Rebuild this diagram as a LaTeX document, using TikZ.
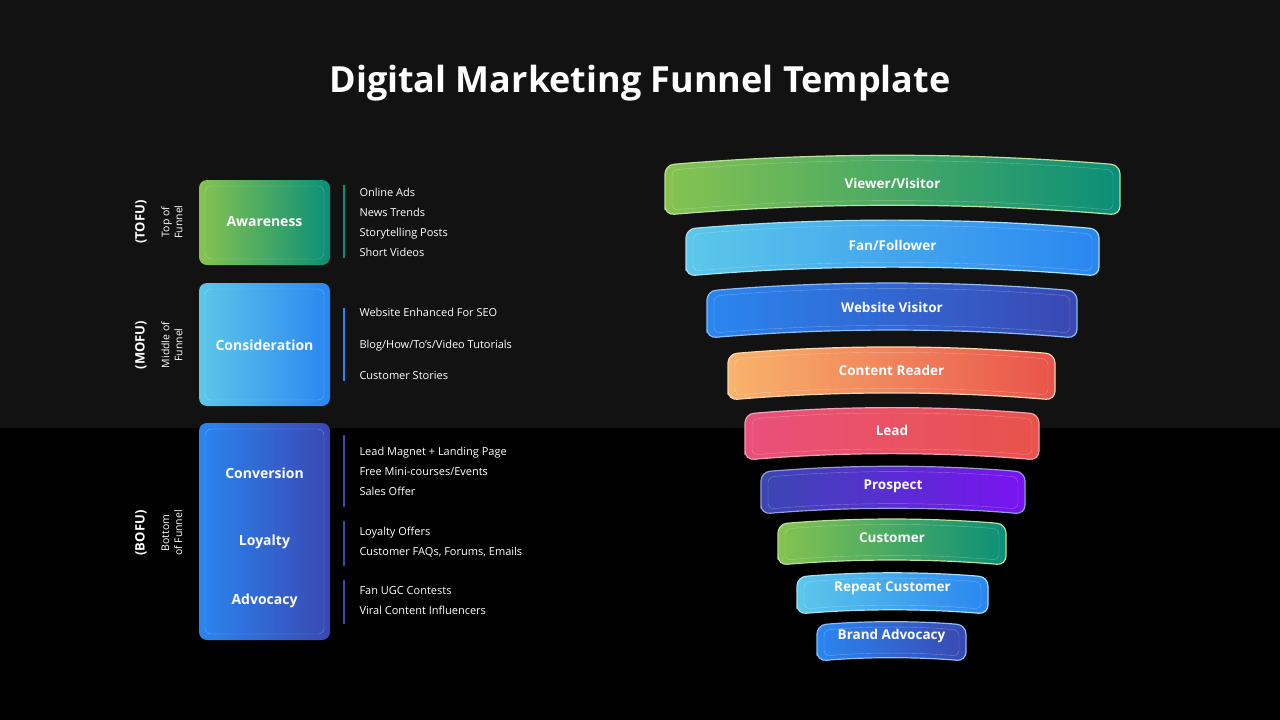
\documentclass[tikz,border=0pt]{standalone}
\usepackage{fontspec}
\setmainfont{Open Sans}
\usepackage{tikz}
\usetikzlibrary{positioning,calc}
\definecolor{cgreen}{HTML}{86C350}
\definecolor{cteal}{HTML}{0A8F78}
\definecolor{clight}{HTML}{5CC8EA}
\definecolor{cblue}{HTML}{2A86F0}
\definecolor{cindigo}{HTML}{3A47B2}
\definecolor{corange}{HTML}{F8B46C}
\definecolor{cred}{HTML}{E9534A}
\definecolor{cpink}{HTML}{E9507C}
\definecolor{cviolet}{HTML}{7A12F2}
\tikzset{
	blabel/.style={white,font=\fontsize{14}{16}\selectfont\bfseries},
	flabel/.style={white,font=\fontsize{13.5}{16}\selectfont\bfseries},
	items/.style={white,anchor=west,align=left,font=\fontsize{11}{20}\selectfont},
	stage/.style={white,rotate=90,font=\fontsize{13}{15}\selectfont\bfseries},
	sub/.style={white,rotate=90,align=center,font=\fontsize{10.5}{13}\selectfont}
}
% funnel bar outline: x1,x2,ytop,ybottom
\newcommand{\fpath}[4]{(#1,#4) -- (#1,#3) .. controls ({(#1)+((#2)-(#1))/3},{(#3)-0.028*((#2)-(#1))}) and ({(#2)-((#2)-(#1))/3},{(#3)-0.028*((#2)-(#1))}) .. (#2,#3) -- (#2,#4) .. controls ({(#2)-((#2)-(#1))/3},{(#4)-0.028*((#2)-(#1))}) and ({(#1)+((#2)-(#1))/3},{(#4)-0.028*((#2)-(#1))}) .. cycle}
% x1,x2,ytop,ybottom,left colour,right colour,text,name
\newcommand{\fbar}[8]{
	\shade[left color=#5,right color=#6,rounded corners=9] \fpath{#1}{#2}{#3}{#4};
	\draw[#5!55!white,line width=1.2pt,rounded corners=9] \fpath{#1}{#2}{#3}{#4};
	\draw[white,opacity=.3,rounded corners=6] \fpath{#1+7}{#2-7}{#3+5}{#4-5};
	\node[flabel] (#8) at ({((#1)+(#2))/2},{((#3)+(#4))/2-7}) {#7};
}
\begin{document}
\begin{tikzpicture}[x=1pt,y=-1pt]
	%Fond
	\fill[black!93] (0,0) rectangle (1280,428);
	\fill[black] (0,428) rectangle (1280,720);
	\useasboundingbox (0,0) rectangle (1280,720);
	
	\node[white,font=\fontsize{36}{40}\selectfont\bfseries] (title) at (640,83) {Digital Marketing Funnel Template};
	
	%Blocs de gauche
	\shade[left color=cgreen,right color=cteal,rounded corners=8] (199,180) rectangle (330,265);
	\draw[white,opacity=.3,rounded corners=6] (205,186) rectangle (324,259);
	\node[blabel] (aware) at (264.5,222) {Awareness};
	
	\shade[left color=clight,right color=cblue,rounded corners=8] (199,283) rectangle (330,406);
	\draw[white,opacity=.3,rounded corners=6] (205,289) rectangle (324,400);
	\node[blabel] (consid) at (264.5,345) {Consideration};
	
	\shade[left color=cblue,right color=cindigo,rounded corners=8] (199,423) rectangle (330,640);
	\draw[white,opacity=.3,rounded corners=6] (205,429) rectangle (324,634);
	\node[blabel] (conv) at (264.5,473) {Conversion};
	\node[blabel] (loyal) at (264.5,542) {Loyalty};
	\node[blabel] (advoc) at (264.5,601) {Advocacy};
	
	%Etapes
	\node[stage] (tofu) at (141,222) {(TOFU)};
	\node[sub] (tofus) at (172,222) {Top of\\Funnel};
	\node[stage] (mofu) at (141,345) {(MOFU)};
	\node[sub] (mofus) at (172,345) {Middle of\\Funnel};
	\node[stage] (bofu) at (141,533) {(BOFU)};
	\node[sub] (bofus) at (172,533) {Bottom\\of Funnel};
	
	%Listes
	\draw[cteal,line width=2.5pt] (344,185) -- (344,258);
	\draw[cblue,line width=2.5pt] (344,308) -- (344,381);
	\draw[cindigo,line width=2.5pt] (344,435) -- (344,507);
	\draw[cindigo,line width=2.5pt] (344,521) -- (344,566);
	\draw[cindigo,line width=2.5pt] (344,580) -- (344,624);
	\node[items] (l1) at (356,222) {Online Ads\\News Trends\\Storytelling Posts\\Short Videos};
	\node[items,font=\fontsize{11}{31.5}\selectfont] (l2) at (356,344) {Website Enhanced For SEO\\Blog/How/To’s/Video Tutorials\\Customer Stories};
	\node[items] (l3) at (356,471) {Lead Magnet + Landing Page\\Free Mini-courses/Events\\Sales Offer};
	\node[items] (l4) at (356,542) {Loyalty Offers\\Customer FAQs, Forums, Emails};
	\node[items] (l5) at (356,601) {Fan UGC Contests\\Viral Content Influencers};
	
	%Entonnoir
	\fbar{665}{1120}{165}{215}{cgreen}{cteal}{Viewer/Visitor}{f1}
	\fbar{686}{1099}{229}{276}{clight}{cblue}{Fan/Follower}{f2}
	\fbar{707}{1077}{291}{338}{cblue}{cindigo}{Website Visitor}{f3}
	\fbar{728}{1055}{354}{400}{corange}{cred}{Content Reader}{f4}
	\fbar{745}{1039}{414}{460}{cpink}{cred}{Lead}{f5}
	\fbar{761}{1025}{472}{514}{cindigo}{cviolet}{Prospect}{f6}
	\fbar{778}{1006}{524}{565}{cgreen}{cteal}{Customer}{f7}
	\fbar{797}{988}{577}{614}{clight}{cblue}{Repeat Customer}{f8}
	\fbar{817}{966}{625}{661}{cblue}{cindigo}{Brand Advocacy}{f9}
\end{tikzpicture}
\end{document}
